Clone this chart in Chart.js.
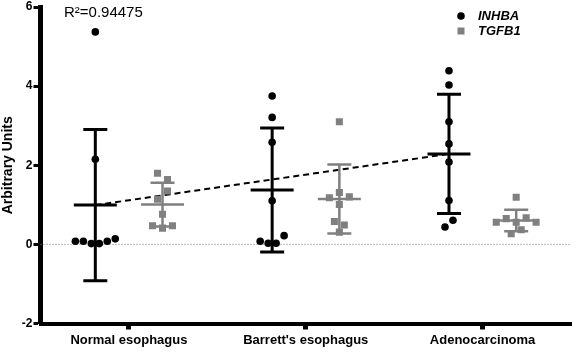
<!DOCTYPE html>
<html>
<head>
<meta charset="utf-8">
<script src="https://cdn.jsdelivr.net/npm/chart.js@4.4.1/dist/chart.umd.min.js"></script>
<style>
    body{margin:0;background:#fff;}
</style>
</head>
<body>
<canvas id="myChart" width="576" height="352"></canvas>
<script>
// Datos (unidades arbitrarias)
const grupos = ['Normal esophagus', "Barrett's esophagus", 'Adenocarcinoma'];
const inhbaNormal = [5.37, 2.15, 0.08, 0.08, 0.02, 0.02, 0.08, 0.14];
const inhbaBarrett = [3.75, 3.21, 2.58, 1.10, 0.08, 0.03, 0.03, 0.22];
const inhbaAdeno = [4.39, 4.03, 3.10, 2.54, 2.08, 1.11, 0.44, 0.61];
const tgfb1Normal = [1.80, 1.64, 1.14, 1.35, 0.76, 0.47, 0.41, 0.47];
const tgfb1Barrett = [3.10, 1.18, 1.31, 1.20, 1.01, 0.58, 0.49, 0.31];
const tgfb1Adeno = [1.19, 0.56, 0.65, 0.56, 0.67, 0.56, 0.27, 0.37];
const yTicks = [-2, 0, 2, 4, 6];
const textoR2 = 'R\u00b2=0.94475';

const datosINHBA = [inhbaNormal, inhbaBarrett, inhbaAdeno];
const datosTGFB1 = [tgfb1Normal, tgfb1Barrett, tgfb1Adeno];

// desplazamiento de cada serie dentro del grupo
const despINHBA = -0.19;
const despTGFB1 = 0.19;
const gris = '#808080';

Chart.defaults.font.family = "'Liberation Sans', Arial, sans-serif";
Chart.defaults.color = '#000';

function media(arr){
    return arr.reduce((a, b) => a + b, 0) / arr.length;
}
function desv(arr){
    const m = media(arr);
    return Math.sqrt(arr.reduce((a, b) => a + (b - m) * (b - m), 0) / (arr.length - 1));
}

// linea punteada en cero
const lineaCero = {
    id: 'lineaCero',
    beforeDatasetsDraw(chart){
        const ctx = chart.ctx, area = chart.chartArea;
        const py = chart.scales.y.getPixelForValue(0);
        ctx.save();
        ctx.strokeStyle = '#777';
        ctx.lineWidth = 1;
        ctx.setLineDash([1, 2]);
        ctx.beginPath();
        ctx.moveTo(area.left, py);
        ctx.lineTo(area.right, py);
        ctx.stroke();
        ctx.restore();
    }
};

// media y desviacion estandar
const barrasError = {
    id: 'barrasError',
    afterDatasetsDraw(chart){
        const ctx = chart.ctx, sx = chart.scales.x, sy = chart.scales.y;
        [[datosINHBA, despINHBA, '#000', 3], [datosTGFB1, despTGFB1, gris, 2.5]].forEach(([sets, desp, color, ancho]) => {
            sets.forEach((arr, i) => {
                const m = media(arr), s = desv(arr);
                const px = sx.getPixelForValue(i + desp);
                const pm = sy.getPixelForValue(m);
                const pt = sy.getPixelForValue(m + s);
                const pb = sy.getPixelForValue(m - s);
                ctx.save();
                ctx.strokeStyle = color;
                ctx.lineWidth = ancho;
                ctx.beginPath();
                ctx.moveTo(px, pt); ctx.lineTo(px, pb);
                ctx.moveTo(px - 12, pt); ctx.lineTo(px + 12, pt);
                ctx.moveTo(px - 12, pb); ctx.lineTo(px + 12, pb);
                ctx.moveTo(px - 21.5, pm); ctx.lineTo(px + 21.5, pm);
                ctx.stroke();
                ctx.restore();
            });
        });
    }
};

// leyenda y texto del R2
const leyenda = {
    id: 'leyenda',
    afterDraw(chart){
        const ctx = chart.ctx;
        ctx.save();
        ctx.fillStyle = '#000';
        ctx.beginPath();
        ctx.arc(461, 16, 3.8, 0, Math.PI * 2);
        ctx.fill();
        ctx.fillStyle = gris;
        ctx.fillRect(457.5, 27.5, 7, 7);
        ctx.fillStyle = '#000';
        ctx.font = "italic bold 13px 'Liberation Sans', Arial, sans-serif";
        ctx.textBaseline = 'middle';
        ctx.textAlign = 'left';
        ctx.fillText('INHBA', 478, 16);
        ctx.fillText('TGFB1', 478, 31);
        ctx.font = "15px 'Liberation Sans', Arial, sans-serif";
        ctx.fillText(textoR2, 64, 13);
        ctx.restore();
    }
};

const ctx = document.getElementById('myChart').getContext('2d');
const myChart = new Chart(ctx, {
    type: 'scatter',
    data: {
        datasets: [{
            label: 'INHBA',
            data: [],
            pointStyle: 'circle',
            pointRadius: 3.8,
            backgroundColor: '#000',
            borderColor: '#000',
            borderWidth: 0
        }, {
            label: 'TGFB1',
            data: [],
            pointStyle: 'rect',
            pointRadius: 5,
            backgroundColor: gris,
            borderColor: gris,
            borderWidth: 0
        }, {
            label: 'tendencia',
            type: 'line',
            data: [
                {x: 0 + despINHBA, y: media(inhbaNormal)},
                {x: 2 + despINHBA, y: media(inhbaAdeno)}
            ],
            borderColor: '#000',
            borderWidth: 2,
            borderDash: [6, 4],
            pointRadius: 0,
            fill: false
        }]
    },
    options: {
        responsive: false,
        animation: false,
        devicePixelRatio: 1,
        layout: {padding: {top: 5, right: 3, left: 0, bottom: 0}},
        plugins: {legend: {display: false}, tooltip: {enabled: false}},
        scales: {
            x: {
                type: 'linear',
                min: -0.5,
                max: 2.5,
                afterBuildTicks: (s) => { s.ticks = grupos.map((g, i) => ({value: i})); },
                afterFit: (s) => { s.height = 28.5; },
                ticks: {
                    callback: (v) => grupos[v],
                    font: {size: 13, weight: 'bold'},
                    color: '#000',
                    padding: 3,
                    maxRotation: 0,
                    autoSkip: false
                },
                grid: {drawOnChartArea: false, drawTicks: true, tickLength: 6, tickWidth: 5, tickColor: '#000'},
                border: {display: true, color: '#000', width: 4}
            },
            y: {
                min: -2,
                max: 6,
                afterBuildTicks: (s) => { s.ticks = yTicks.map(v => ({value: v})); },
                afterFit: (s) => { s.width = 40.5; },
                ticks: {
                    font: {size: 12, weight: 'bold', lineHeight: 1},
                    color: '#000',
                    padding: 1
                },
                title: {
                    display: true,
                    text: 'Arbitrary Units',
                    font: {size: 14, weight: 'bold'},
                    color: '#000',
                    padding: 0
                },
                grid: {drawOnChartArea: false, drawTicks: true, tickLength: 7, tickWidth: 3, tickColor: '#000'},
                border: {display: true, color: '#000', width: 5}
            }
        }
    },
    plugins: [lineaCero, barrasError, leyenda]
});

// acomoda los puntos en filas (tipo beeswarm)
function acomodar(sets, desp, sep){
    const sx = myChart.scales.x;
    const unidad = sx.getPixelForValue(1) - sx.getPixelForValue(0);
    const pts = [];
    sets.forEach((arr, g) => {
        const orden = arr.map((v, i) => i).sort((a, b) => arr[b] - arr[a]);
        const filas = [];
        orden.forEach(i => {
            const fila = filas[filas.length - 1];
            if(fila && arr[fila[0]] - arr[i] < 0.22){
                fila.push(i);
            }
            else{
                filas.push([i]);
            }
        });
        filas.forEach(fila => {
            fila.sort((a, b) => a - b);
            fila.forEach((i, k) => {
                pts.push({x: g + desp + (k - (fila.length - 1) / 2) * sep / unidad, y: arr[i]});
            });
        });
    });
    return pts;
}

myChart.data.datasets[0].data = acomodar(datosINHBA, despINHBA, 8);
myChart.data.datasets[1].data = acomodar(datosTGFB1, despTGFB1, 10);
myChart.update();
</script>
</body>
</html>
